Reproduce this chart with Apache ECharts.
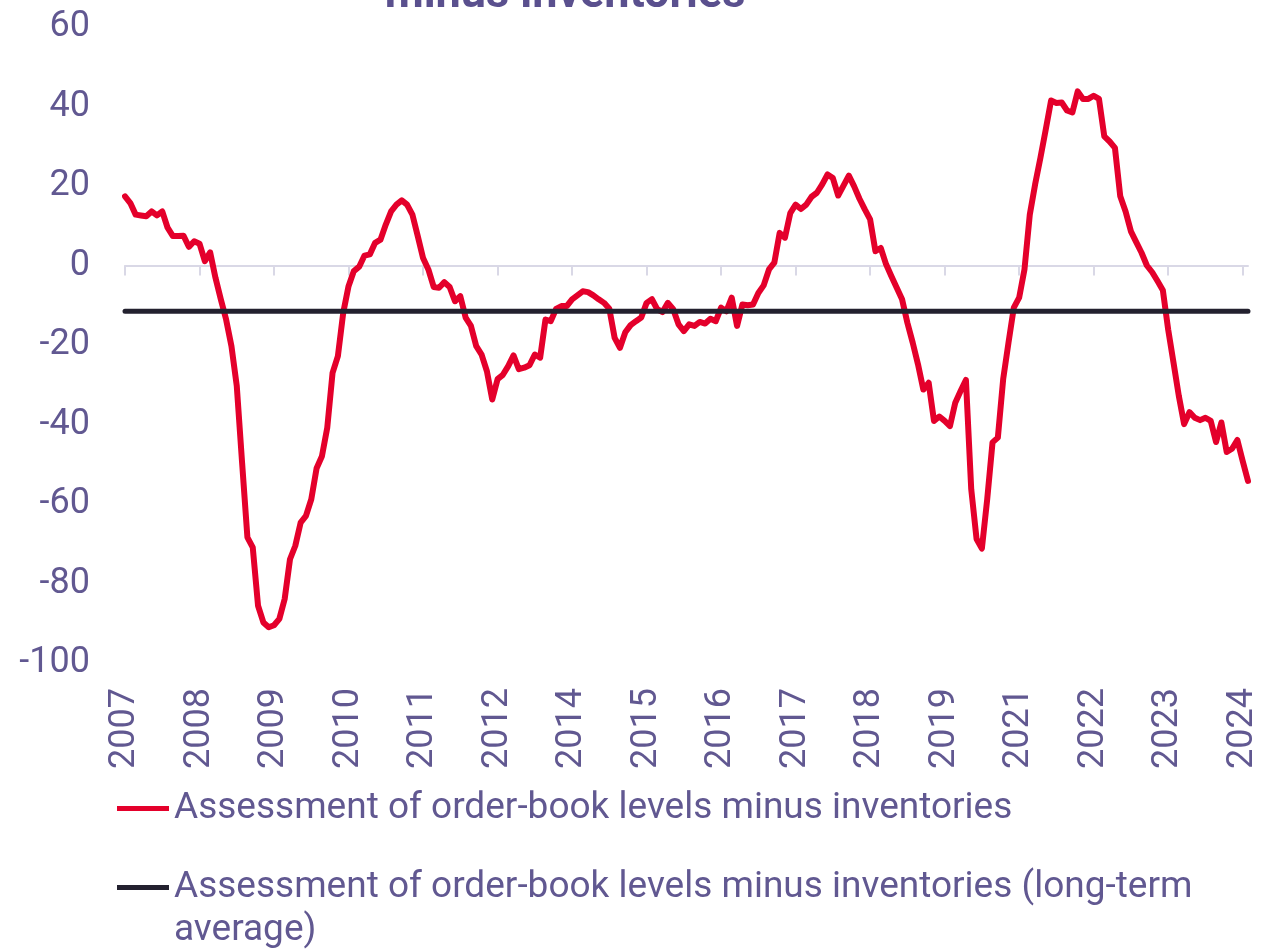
<!DOCTYPE html>
<html>
<head>
<meta charset="utf-8">
<script src="https://cdn.jsdelivr.net/npm/echarts@6/dist/echarts.min.js"></script>
<style>
  html, body { margin: 0; padding: 0; background: #fff; }
  #chart { width: 1262px; height: 950px; }
</style>
</head>
<body>
<div id="chart"></div>
<script>
// monthly categories, Jan 2007 .. Aug 2024
var categories = [];
for (var y = 2007; y <= 2024; y++) {
  for (var m = 1; m <= 12; m++) {
    if (y === 2024 && m > 8) break;
    categories.push(y + '-' + (m < 10 ? '0' + m : m));
  }
}

// order-book levels minus inventories (balance)
var orderBookMinusInv = [
  17.4, 15.7, 12.8, 12.6, 12.4, 13.6, 12.6, 13.6, 9.5, 7.4, 7.4, 7.5,
  4.7, 6.1, 5.5, 1.1, 3.3, -3.1, -8.5, -13.6, -20.3, -30.3, -49.6, -68.4,
  -70.9, -85.6, -89.8, -91, -90.5, -88.9, -83.9, -73.9, -70.5, -64.7, -63, -58.8,
  -51, -48, -40.8, -27, -22.8, -11.9, -5.2, -1.4, -0.3, 2.5, 2.8, 5.7,
  6.5, 10.3, 13.6, 15.3, 16.4, 15.3, 12.8, 7.4, 1.9, -1, -5.4, -5.6,
  -4.2, -5.4, -9, -7.7, -13.1, -15.2, -20.3, -22.4, -26.6, -33.7, -28.6, -27.5,
  -25.3, -22.6, -26.1, -25.7, -25.1, -22.4, -23.2, -13.6, -14, -10.9, -10.2, -10.2,
  -8.5, -7.5, -6.5, -6.7, -7.5, -8.5, -9.4, -10.9, -18.2, -20.7, -16.8, -15,
  -14, -13.1, -9.4, -8.5, -11, -11.7, -9.4, -11, -14.8, -16.5, -14.8, -15.2,
  -14.2, -14.6, -13.4, -14, -10.6, -11.5, -8.1, -15.2, -9.8, -10, -9.8, -6.9,
  -5, -1, 0.7, 8.2, 7, 13.2, 15.3, 14.2, 15.3, 17.3, 18.3, 20.4,
  22.9, 22, 17.6, 20.1, 22.6, 19.9, 16.8, 14.1, 11.6, 3.6, 4.4, 0.3,
  -2.7, -5.6, -8.5, -14.4, -19.4, -24.9, -31.2, -29.5, -39.1, -38, -39.1, -40.4,
  -34.5, -31.6, -28.8, -56.3, -68.8, -71.2, -58.8, -44.5, -43.3, -28.6, -19.4, -10.6,
  -8.1, -1, 12.8, 20.4, 27.1, 34.2, 41.5, 40.9, 41, 39, 38.5, 43.8,
  41.9, 41.9, 42.7, 41.9, 32.5, 31.2, 29.6, 17.4, 13.6, 8.6, 5.9, 3.2,
  0, -1.7, -3.9, -6.2, -16.1, -24.4, -32.8, -39.9, -36.9, -38.3, -38.9, -38.3,
  -39.1, -44.4, -39.5, -46.9, -46.1, -43.9, -49.2, -54.2
];

// long-term average of the series
var longTermAverage = -11.5;
var averageLine = categories.map(function () { return longTermAverage; });

var yTicks = { min: -100, max: 60, step: 20 };

var nameMain = 'Assessment of order-book levels minus inventories';
var nameAvg = 'Assessment of order-book levels minus inventories (long-term average)';

var textColor = '#615891';
var axisGray = '#d9d8e6';

var legendText = {
  fontFamily: 'Roboto',
  fontSize: 37,
  lineHeight: 43,
  color: textColor,
  width: 1040,
  overflow: 'break'
};

var chart = echarts.init(document.getElementById('chart'));

var option = {
  animation: false,
  title: {
    text: 'Assessment of order-book levels\nminus inventories',
    left: 560,
    top: -93,
    textAlign: 'center',
    textStyle: {
      fontFamily: 'Roboto',
      fontSize: 45,
      fontWeight: 'bold',
      lineHeight: 56,
      color: '#5a508e'
    }
  },
  legend: [
    {
      orient: 'vertical',
      left: 112,
      top: 782,
      itemWidth: 52,
      itemHeight: 5,
      icon: 'rect',
      textStyle: legendText,
      data: [nameMain]
    },
    {
      // blank first line keeps the icon level with the first text line
      orient: 'vertical',
      left: 112,
      top: 818,
      itemWidth: 52,
      itemHeight: 5,
      icon: 'rect',
      textStyle: legendText,
      formatter: function (name) { return '\n' + name; },
      data: [nameAvg]
    }
  ],
  grid: {
    left: 125,
    right: 14,
    top: 27,
    bottom: 287
  },
  xAxis: [
    {
      type: 'category',
      data: categories,
      boundaryGap: false,
      position: 'bottom',
      axisLine: { onZero: true, lineStyle: { color: axisGray, width: 2 } },
      axisTick: { show: true, interval: 13, length: 10, lineStyle: { color: axisGray, width: 2 } },
      axisLabel: { show: false },
      splitLine: { show: false }
    },
    {
      type: 'category',
      data: categories,
      boundaryGap: false,
      position: 'bottom',
      axisLine: { show: false, onZero: false },
      axisTick: { show: false },
      splitLine: { show: false },
      axisLabel: {
        interval: 13,
        rotate: 90,
        margin: 25,
        fontFamily: 'Roboto',
        fontSize: 36,
        color: textColor,
        formatter: function (v) { return v.slice(0, 4); }
      }
    }
  ],
  yAxis: {
    type: 'value',
    min: yTicks.min,
    max: yTicks.max,
    interval: yTicks.step,
    axisLine: { show: false },
    axisTick: { show: false },
    splitLine: { show: false },
    axisLabel: {
      margin: 35,
      fontFamily: 'Roboto',
      fontSize: 36,
      color: textColor
    }
  },
  series: [
    {
      name: nameMain,
      type: 'line',
      xAxisIndex: 0,
      data: orderBookMinusInv,
      showSymbol: false,
      color: '#e4002b',
      lineStyle: { color: '#e4002b', width: 6, cap: 'round', join: 'round' }
    },
    {
      name: nameAvg,
      type: 'line',
      xAxisIndex: 0,
      data: averageLine,
      showSymbol: false,
      color: '#23212f',
      lineStyle: { color: '#23212f', width: 5, cap: 'round' }
    }
  ]
};

chart.setOption(option);
</script>
</body>
</html>
